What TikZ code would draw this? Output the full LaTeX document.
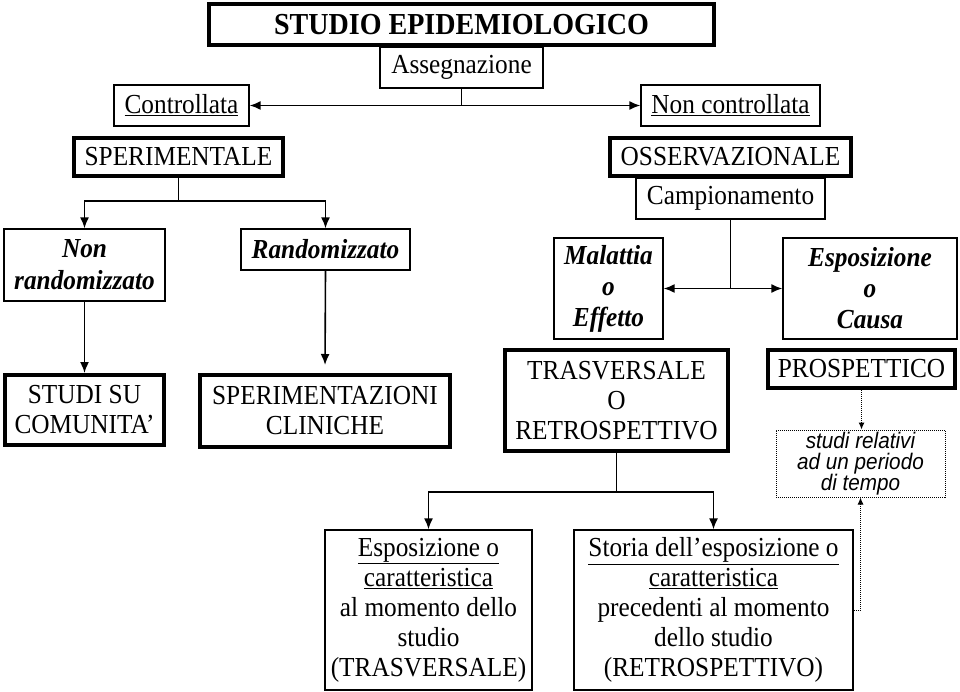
\documentclass[tikz,border=0pt]{standalone}
\usepackage{fontspec}
\setmainfont{Liberation Serif}[FakeStretch=0.92]
\newfontfamily\arialfont{Liberation Sans}[FakeStretch=0.92]
\usetikzlibrary{arrows.meta}

\begin{document}
\begin{tikzpicture}[x=1pt,y=-1pt,
  txt/.style={font=\fontsize{27.5}{30}\selectfont,align=center,inner sep=0pt},
  thinbox/.style={txt,draw,line width=1.3pt},
  thickbox/.style={txt,draw,line width=4pt},
  dotbox/.style={draw,densely dotted,line width=1pt,align=center,inner sep=0pt,
    font=\arialfont\itshape\fontsize{22.5}{21}\selectfont},
  arr/.style={line width=1.6pt,-{Latex[length=11pt,width=9pt]}},
  dotarr/.style={densely dotted,line width=1pt,-{Latex[length=7pt,width=6pt]}}]
\useasboundingbox (0,0) rectangle (960,692);
% top
\node[thickbox,minimum width=505pt,minimum height=41pt,font=\bfseries\fontsize{30.5}{30}\selectfont] (studio) at (461.5,24.5) {STUDIO EPIDEMIOLOGICO};
\node[thinbox,minimum width=163pt,minimum height=41pt] (assegn) at (461.5,67.5) {Assegnazione};
\node[thinbox,minimum width=135pt,minimum height=41pt] (contr) at (181.5,105.5) {\underline{Controllata}};
\node[thinbox,minimum width=179pt,minimum height=41pt] (noncontr) at (730.5,105.5) {\underline{Non controllata}};
\draw[arr] (assegn.south) |- (contr.east);
\draw[arr] (assegn.south) |- (noncontr.west);
% sperimentale
\node[thickbox,minimum width=209pt,minimum height=38pt] (sper) at (178.5,157) {SPERIMENTALE};
\node[thinbox,minimum width=161pt,minimum height=72pt,font=\bfseries\itshape\fontsize{27.5}{32}\selectfont] (nonrand) at (84.5,265) {Non\\randomizzato};
\node[thinbox,minimum width=169pt,minimum height=41pt,font=\bfseries\itshape\fontsize{27.5}{30}\selectfont] (rand) at (325.5,249.5) {Randomizzato};
\node[thickbox,minimum width=159pt,minimum height=70pt] (comunita) at (84.5,410) {STUDI SU\\COMUNITA’};
\node[thickbox,minimum width=250pt,minimum height=72pt] (clin) at (325,411) {SPERIMENTAZIONI\\CLINICHE};
\draw[arr] (sper.south) -- ++(0,23) -| (nonrand.north);
\draw[arr] (sper.south) -- ++(0,23) -| (rand.north);
\draw[arr] (nonrand.south) -- (comunita.north);
\draw[arr,shorten >=8pt] (rand.south) -- (clin.north);
% osservazionale
\node[thickbox,minimum width=241pt,minimum height=38pt] (oss) at (730.5,157) {OSSERVAZIONALE};
\node[thinbox,minimum width=189pt,minimum height=41pt] (camp) at (730.5,198.5) {Campionamento};
\node[thinbox,minimum width=109pt,minimum height=101pt,font=\bfseries\itshape\fontsize{27.5}{31}\selectfont] (malattia) at (608.5,288.5) {Malattia\\o\\Effetto};
\node[thinbox,minimum width=174pt,minimum height=101pt,font=\bfseries\itshape\fontsize{27.5}{31}\selectfont] (espos) at (870,288.5) {Esposizione\\o\\Causa};
\draw[arr] (camp.south) |- (malattia.east);
\draw[arr] (camp.south) |- (espos.west);
\node[thickbox,minimum width=223pt,minimum height=101pt] (trasv) at (616.5,400.5) {TRASVERSALE\\O\\RETROSPETTIVO};
\node[thickbox,minimum width=187pt,minimum height=38pt] (prosp) at (861.5,369) {PROSPETTICO};
\node[dotbox,minimum width=169pt,minimum height=67pt] (periodo) at (860.5,463.5) {studi relativi\\ad un periodo\\di tempo};
\draw[dotarr] (prosp.south) -- (prosp.south |- periodo.north);
% bottom
\node[thinbox,minimum width=207pt,minimum height=160pt] (espcar) at (428.5,610) {\underline{Esposizione o}\\\underline{caratteristica}\\al momento dello\\studio\\(TRASVERSALE)};
\node[thinbox,minimum width=279pt,minimum height=160pt] (storia) at (713.5,610) {\underline{Storia dell’esposizione o}\\\underline{caratteristica}\\precedenti al momento\\dello studio\\(RETROSPETTIVO)};
\draw[arr] (trasv.south) -- ++(0,39) -| (espcar.north);
\draw[arr] (trasv.south) -- ++(0,39) -| (storia.north);
\draw[dotarr] (storia.east) -| (periodo.south);
\end{tikzpicture}
\end{document}
